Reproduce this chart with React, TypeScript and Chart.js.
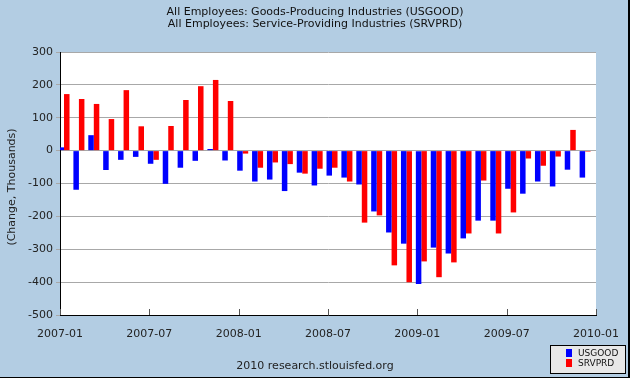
import React, { useEffect, useRef } from "react";
import { Chart, registerables } from "chart.js";

Chart.register(...registerables);

const titleLines = [
  "All Employees: Goods-Producing Industries (USGOOD)",
  "All Employees: Service-Providing Industries (SRVPRD)",
];
const yAxisTitle = "(Change, Thousands)";
const footerText = "2010 research.stlouisfed.org";
const seriesNames = ["USGOOD", "SRVPRD"];
const xTickLabels = ["2007-01", "2007-07", "2008-01", "2008-07", "2009-01", "2009-07", "2010-01"];

// Monthly changes, 2007-01 .. 2009-12 (thousands)
const usgood = [
  10, -119, 47, -59, -28, -19, -40, -101, -52, -31, 5, -30,
  -61, -94, -88, -123, -67, -106, -76, -82, -103, -185, -249, -283,
  -406, -295, -313, -267, -213, -213, -116, -131, -94, -109, -58, -82,
];
const srvprd = [
  172, 157, 142, 96, 184, 74, -28, 75, 154, 196, 215, 151,
  -9, -52, -36, -41, -70, -55, -52, -94, -219, -197, -349, -400,
  -337, -385, -340, -252, -91, -252, -188, -24, -46, -18, 63, -3,
];

const FONT = "'DejaVu Sans', Verdana, sans-serif";
const BG = "#B3CDE3";

export default function App() {
  const ref = useRef<HTMLCanvasElement | null>(null);

  useEffect(() => {
    document.body.style.margin = "0";
    const canvas = ref.current;
    if (!canvas) return;

    const decor = {
      id: "decor",
      beforeDraw(chart: any) {
        const { ctx, chartArea: a, width, height } = chart;
        ctx.save();
        ctx.fillStyle = BG;
        ctx.fillRect(0, 0, width, height);
        ctx.fillStyle = "#FFFFFF";
        ctx.fillRect(a.left, a.top, a.right - a.left, a.bottom - a.top);
        ctx.restore();
      },
      afterDraw(chart: any) {
        const { ctx, chartArea: a, width, height } = chart;
        const xs = chart.scales.x;
        ctx.save();
        // inward tick marks on x axis
        ctx.strokeStyle = "#555";
        ctx.lineWidth = 1;
        for (let i = 0; i < xTickLabels.length; i++) {
          const px = Math.round(xs.getPixelForValue(i * 6)) + 0.5;
          ctx.beginPath();
          ctx.moveTo(px, a.bottom);
          ctx.lineTo(px, a.bottom - 6);
          ctx.stroke();
        }
        // titles
        ctx.fillStyle = "#111";
        ctx.textAlign = "center";
        ctx.textBaseline = "middle";
        ctx.font = `11px ${FONT}`;
        ctx.fillText(titleLines[0], width / 2, 12);
        ctx.fillText(titleLines[1], width / 2, 24);
        // footer
        ctx.fillStyle = "#222";
        ctx.fillText(footerText, width / 2, 366);
        // y title
        ctx.save();
        ctx.translate(12, 187);
        ctx.rotate(-Math.PI / 2);
        ctx.fillText(yAxisTitle, 0, 0);
        ctx.restore();
        // legend
        ctx.fillStyle = "#E8E8E8";
        ctx.fillRect(550, 345, 76, 29);
        ctx.strokeStyle = "#000";
        ctx.lineWidth = 1;
        ctx.strokeRect(550.5, 345.5, 75, 28);
        const colors = ["#0000FF", "#FF0000"];
        for (let i = 0; i < 2; i++) {
          ctx.fillStyle = colors[i];
          ctx.fillRect(566, 349 + i * 10, 6, 8);
          ctx.fillStyle = "#111";
          ctx.textAlign = "left";
          ctx.font = `9px ${FONT}`;
          ctx.fillText(seriesNames[i], 578, 353.5 + i * 10);
        }
        // outer border (right & bottom)
        ctx.fillStyle = "#000";
        ctx.fillRect(width - 2, 0, 2, height);
        ctx.fillRect(0, height - 1, width, 1);
        ctx.restore();
      },
    };

    const chart = new Chart(canvas, {
      type: "bar",
      data: {
        datasets: [
          {
            label: seriesNames[0],
            data: usgood.map((v, i) => ({ x: i + 0.27, y: v })),
            backgroundColor: "#0000FF",
            borderWidth: 0,
          },
          {
            label: seriesNames[1],
            data: srvprd.map((v, i) => ({ x: i + 0.27, y: v })),
            backgroundColor: "#FF0000",
            borderWidth: 0,
          },
        ],
      },
      options: {
        responsive: false,
        animation: false,
        devicePixelRatio: 1,
        categoryPercentage: 0.74,
        barPercentage: 1,
        layout: { padding: { top: 52, right: 34, left: 0, bottom: 0 } },
        plugins: {
          legend: { display: false },
          tooltip: { enabled: false },
          title: { display: false },
        },
        scales: {
          x: {
            type: "linear",
            min: 0,
            max: 36,
            offset: false,
            grid: { display: false, offset: false },
            border: { display: true, color: "#000", width: 1 },
            ticks: {
              stepSize: 6,
              autoSkip: false,
              maxRotation: 0,
              padding: 5,
              color: "#222",
              font: { family: FONT, size: 11 },
              callback: (v: any) => xTickLabels[Math.round(Number(v) / 6)] ?? "",
            },
            afterFit: (s: any) => {
              s.height = 63;
            },
          },
          y: {
            min: -500,
            max: 300,
            grid: { color: "#A8A8A8", lineWidth: 1, tickLength: 4, drawTicks: true },
            border: { display: true, color: "#000", width: 1 },
            ticks: {
              stepSize: 100,
              padding: 3,
              color: "#222",
              font: { family: FONT, size: 11 },
            },
            afterFit: (s: any) => {
              s.width = 60;
            },
          },
        },
      },
      plugins: [decor],
    });

    return () => chart.destroy();
  }, []);

  return (
    <div style={{ width: 630, height: 378 }}>
      <canvas ref={ref} width={630} height={378} style={{ display: "block" }} />
    </div>
  );
}
